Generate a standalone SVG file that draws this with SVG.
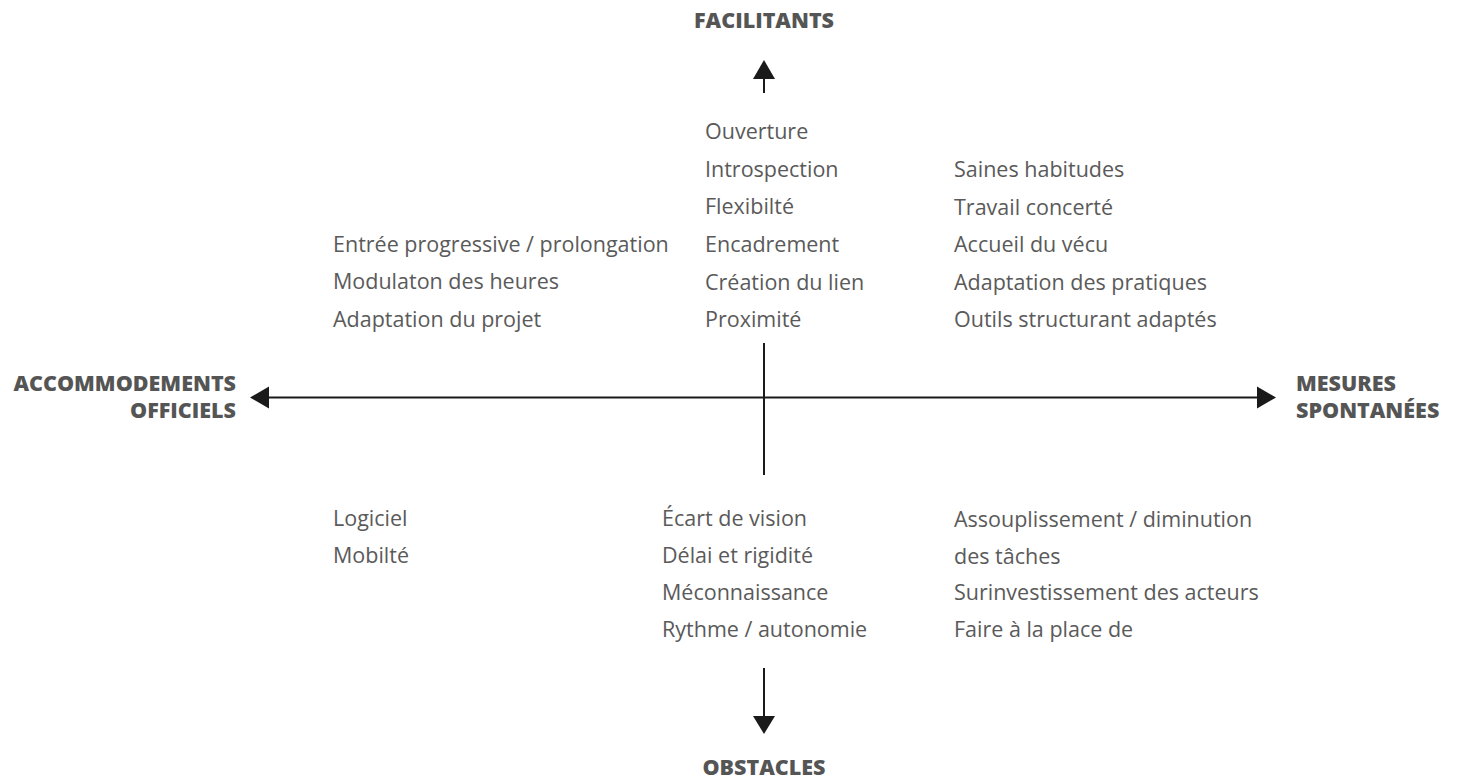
<svg xmlns="http://www.w3.org/2000/svg" width="1457" height="779" viewBox="0 0 1457 779">
<style>
.t{font-family:"Open Sans","Noto Sans","Liberation Sans",sans-serif;font-size:21.5px;fill:#5a5a5a}
.h{font-family:"Open Sans","Noto Sans","Liberation Sans",sans-serif;font-size:21.5px;font-weight:800;fill:#555555}
.ax{stroke:#1a1a1a;stroke-width:2;fill:none}
.ah{fill:#1a1a1a}
</style>
<rect width="1457" height="779" fill="#ffffff"/>
<g id="connectors">
<line class="ax" x1="764" y1="343" x2="764" y2="475"/>
<line class="ax" x1="268" y1="397.5" x2="1258" y2="397.5"/>
<line class="ax" x1="764" y1="78" x2="764" y2="93"/>
<polygon class="ah" points="764,60 753,79 775,79"/>
<line class="ax" x1="764" y1="668" x2="764" y2="718"/>
<polygon class="ah" points="764,734 753,716 775,716"/>
<polygon class="ah" points="250,397.5 269,386.5 269,408.5"/>
<polygon class="ah" points="1276,397.5 1257,386.5 1257,408.5"/>
</g>
<g id="facilitants"><text class="h" x="764" y="28" text-anchor="middle">FACILITANTS</text></g>
<g id="obstacles"><text class="h" x="764" y="775" text-anchor="middle">OBSTACLES</text></g>
<g id="accommodements"><text class="h" x="236" y="391" text-anchor="end">ACCOMMODEMENTS</text><text class="h" x="236" y="418" text-anchor="end">OFFICIELS</text></g>
<g id="mesures"><text class="h" x="1296" y="391">MESURES</text><text class="h" x="1296" y="418">SPONTANÉES</text></g>
<g id="top-center">
<text class="t" x="705" y="139">Ouverture</text>
<text class="t" x="705" y="177">Introspection</text>
<text class="t" x="705" y="214">Flexibilté</text>
<text class="t" x="705" y="252">Encadrement</text>
<text class="t" x="705" y="290">Création du lien</text>
<text class="t" x="705" y="327">Proximité</text>
</g>
<g id="top-left">
<text class="t" x="333" y="252">Entrée progressive / prolongation</text>
<text class="t" x="333" y="289">Modulaton des heures</text>
<text class="t" x="333" y="327">Adaptation du projet</text>
</g>
<g id="top-right">
<text class="t" x="954" y="177">Saines habitudes</text>
<text class="t" x="954" y="215">Travail concerté</text>
<text class="t" x="954" y="252">Accueil du vécu</text>
<text class="t" x="954" y="290">Adaptation des pratiques</text>
<text class="t" x="954" y="327">Outils structurant adaptés</text>
</g>
<g id="bottom-left">
<text class="t" x="333" y="526">Logiciel</text>
<text class="t" x="333" y="563">Mobilté</text>
</g>
<g id="bottom-center">
<text class="t" x="662" y="526">Écart de vision</text>
<text class="t" x="662" y="563">Délai et rigidité</text>
<text class="t" x="662" y="600">Méconnaissance</text>
<text class="t" x="662" y="637">Rythme / autonomie</text>
</g>
<g id="bottom-right">
<text class="t" x="954" y="527">Assouplissement / diminution</text>
<text class="t" x="954" y="564">des tâches</text>
<text class="t" x="954" y="600">Surinvestissement des acteurs</text>
<text class="t" x="954" y="637">Faire à la place de</text>
</g>
</svg>
